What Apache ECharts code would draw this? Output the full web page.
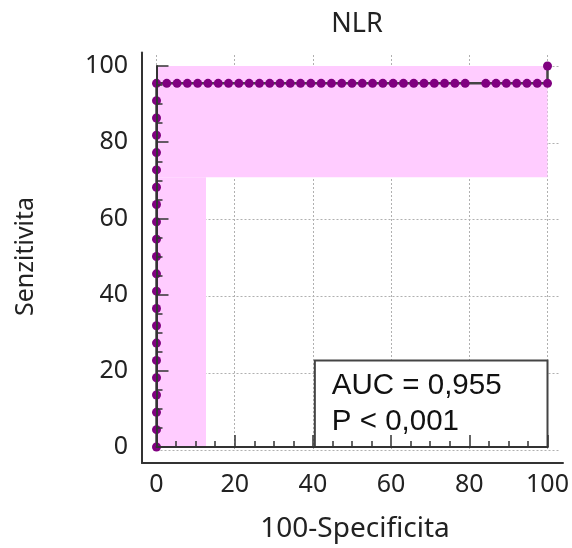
<!DOCTYPE html>
<html><head><meta charset="utf-8">
<script src="https://cdn.jsdelivr.net/npm/echarts@6/dist/echarts.min.js"></script>
<style>html,body{margin:0;padding:0;background:#fff}#c{width:572px;height:548px}</style>
</head><body><div id="c"></div>
<script>
// ---- data ----
const titleText = 'NLR';
const xName = '100-Specificita';
const yName = 'Senzitivita';
const tickValues = [0, 20, 40, 60, 80, 100];
// ROC: vertical run at 100-Specificita = 0
const vertSens = [0, 4.55, 9.09, 13.64, 18.18, 22.73, 27.27, 31.82, 36.36, 40.91, 45.45, 50,
  54.55, 59.09, 63.64, 68.18, 72.73, 77.27, 81.82, 86.36, 90.91, 95.45];
// ROC: horizontal run at Senzitivita = 95.45
const plateauSens = 95.45;
const plateauFpr = [2.63, 5.26, 7.89, 10.53, 13.16, 15.79, 18.42, 21.05, 23.68, 26.32, 28.95,
  31.58, 34.21, 36.84, 39.47, 42.11, 44.74, 47.37, 50.00, 52.63, 55.26, 57.89, 60.53, 63.16,
  65.79, 68.42, 71.05, 73.68, 76.32, 78.95, 84.21, 86.84, 89.47, 92.11, 94.74, 97.37, 100];
const endPoint = [100, 100];
// confidence band (union of two rectangles): [x0, y0, x1, y1]
const ciRects = [[0, 70.8, 100, 100], [0, 0, 12.66, 70.8]];
// stats box
const statsRect = [40.5, 22.7, 100, 0];
const statsLines = ['AUC = 0,955', 'P < 0,001'];

// ---- build ----
const rocData = [];
vertSens.forEach(s => rocData.push([0, s]));
plateauFpr.forEach(f => rocData.push([f, plateauSens]));
rocData.push(endPoint);

const FONT = 'Noto Sans';
const dark = '#333';
const chart = echarts.init(document.getElementById('c'), null, {renderer: 'canvas'});

const minIdx = {show: true, splitNumber: 4, length: 6, lineStyle: {color: dark, width: 1.5}};
const gridLine = {show: true, showMaxLine: false, lineStyle: {color: '#b0b0b0', width: 1, type: [2, 2]}};

chart.setOption({
  animation: false,
  backgroundColor: '#fff',
  title: {text: titleText, left: 352, top: 6, textAlign: 'center',
    textStyle: {fontFamily: FONT, fontSize: 27, fontWeight: 'normal', color: '#222'}},
  grid: [
    {left: 156.5, right: 24.5, top: 66, bottom: 98},   // data
    {left: 156.5, right: 12, top: 55, bottom: 98},     // grid lines
    {left: 142, right: 9, top: 52.6, bottom: 85}       // axis lines
  ],
  xAxis: [
    {type: 'value', gridIndex: 0, min: 0, max: 100, interval: 20, offset: 13, z: 10,
      axisLine: {show: true, lineStyle: {color: dark, width: 2}},
      axisTick: {show: true, inside: true, length: 12, lineStyle: {color: dark, width: 1.5}},
      minorTick: minIdx, splitLine: {show: false},
      axisLabel: {margin: 12, fontFamily: FONT, fontSize: 25, color: '#222',
        formatter: v => tickValues.includes(v) ? String(v) : ''},
      name: xName, nameLocation: 'middle', nameGap: 55,
      nameTextStyle: {fontFamily: FONT, fontSize: 28, color: '#222', padding: [0, 0, 0, 6]}},
    {type: 'value', gridIndex: 1, min: 0, max: 103.2, interval: 20,
      axisLine: {show: false}, axisTick: {show: false}, axisLabel: {show: false}, splitLine: gridLine},
    {type: 'value', gridIndex: 2, min: 0, max: 1, z: 10,
      axisLine: {show: true, lineStyle: {color: dark, width: 2}}, axisTick: {show: false},
      axisLabel: {show: false}, splitLine: {show: false}}
  ],
  yAxis: [
    {type: 'value', gridIndex: 0, min: 0, max: 100, interval: 20, offset: 14.5, z: 10,
      axisLine: {show: true, lineStyle: {color: dark, width: 2}},
      axisTick: {show: true, inside: true, length: 12, lineStyle: {color: dark, width: 1.5}},
      minorTick: minIdx, splitLine: {show: false},
      axisLabel: {margin: 14, fontFamily: FONT, fontSize: 25, color: '#222',
        formatter: v => tickValues.includes(v) ? String(v) : ''},
      name: yName, nameLocation: 'middle', nameGap: 104,
      nameTextStyle: {fontFamily: FONT, fontSize: 25, color: '#222'}},
    {type: 'value', gridIndex: 1, min: 0, max: 102.9, interval: 20,
      axisLine: {show: false}, axisTick: {show: false}, axisLabel: {show: false}, splitLine: gridLine},
    {type: 'value', gridIndex: 2, min: 0, max: 1, z: 10,
      axisLine: {show: true, lineStyle: {color: dark, width: 2}}, axisTick: {show: false},
      axisLabel: {show: false}, splitLine: {show: false}}
  ],
  series: [
    {type: 'line', xAxisIndex: 0, yAxisIndex: 0, data: [], z: 1, silent: true,
      markArea: {silent: true, itemStyle: {color: '#ffccff'},
        data: ciRects.map(r => [{coord: [r[0], r[1]]}, {coord: [r[2], r[3]]}])}},
    {type: 'line', xAxisIndex: 0, yAxisIndex: 0, data: [], z: 1, silent: true,
      markArea: {silent: true,
        itemStyle: {color: '#fff', borderColor: '#444', borderWidth: 2},
        label: {show: true, position: 'insideLeft', distance: 18, fontFamily: 'Liberation Sans',
          fontSize: 29.5, lineHeight: 36, color: '#111', formatter: statsLines.join('\n')},
        data: [[{coord: [statsRect[0], statsRect[1]]}, {coord: [statsRect[2], statsRect[3]]}]]}},
    {type: 'line', xAxisIndex: 0, yAxisIndex: 0, data: rocData, z: 5, clip: false,
      symbol: 'circle', symbolSize: 9, showAllSymbol: true,
      lineStyle: {color: '#444', width: 2.5},
      itemStyle: {color: '#800080'}}
  ]
});
</script></body></html>
